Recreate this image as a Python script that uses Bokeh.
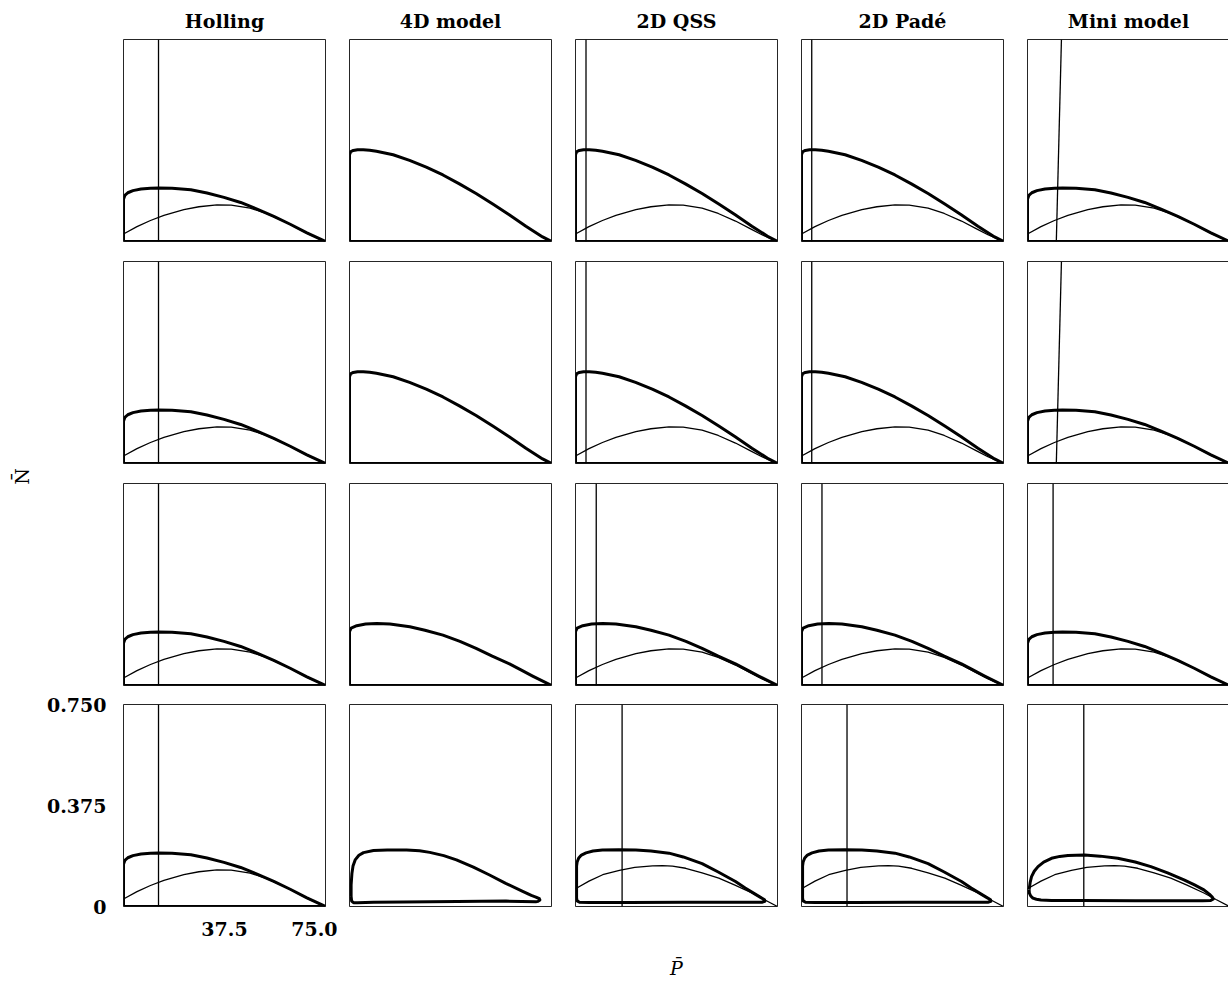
import math
from bokeh.plotting import figure
from bokeh.layouts import gridplot, row
from bokeh.models import Label, FixedTicker, Title
from bokeh.embed import file_html
from bokeh.resources import INLINE

# ---------------- data ----------------
MODELS = ["Holling", "4D model", "2D QSS", "2D Padé", "Mini model"]
P_RANGE = (0.0, 75.0)
N_RANGE = (0.0, 0.75)
X_TICKS = [37.5, 75.0]
X_TICK_LABELS = ["37.5", "75.0"]
Y_TICKS = [0.0, 0.375, 0.75]
Y_TICK_LABELS = ["0", "0.375", "0.750"]
X_LABEL = "P\u0304"
Y_LABEL = "N\u0304"

# limit cycles (thick)
HOLLING_CYCLE_P = [0, 0, 0.5, 1.6, 3.5, 6.5, 10, 13, 18, 25, 31, 37.3, 43.5, 49.6, 55.8, 61.9,
                   68.1, 75, 0]
HOLLING_CYCLE_N = [0, 0.157, 0.171, 0.181, 0.189, 0.195, 0.198, 0.199, 0.198, 0.192, 0.180, 0.164,
                   0.145, 0.120, 0.093, 0.064, 0.032, 0, 0]

BIG_CYCLE_P = [0, 0, 0.5, 1.4, 3, 5.1, 7.5, 10, 16.2, 22.3, 28.5, 34.7, 40.8, 47, 53.2, 59.3,
               65.5, 71.7, 75, 0]
BIG_CYCLE_N = [0, 0.322, 0.334, 0.338, 0.341, 0.341, 0.339, 0.335, 0.322, 0.301, 0.276, 0.247,
               0.214, 0.178, 0.139, 0.099, 0.057, 0.017, 0, 0]

MID_CYCLE_P = [0, 0, 0.6, 2.7, 6, 10.1, 15, 22.4, 28, 34.7, 41, 47, 53, 59.4, 64, 68, 75, 0]
MID_CYCLE_N = [0, 0.200, 0.213, 0.222, 0.228, 0.230, 0.228, 0.218, 0.205, 0.187, 0.164, 0.138,
               0.109, 0.080, 0.056, 0.035, 0, 0]

ROUND4D_CYCLE_P = [0.6, 0.6, 0.9, 1.3, 2.1, 3.5, 5.2, 8.9, 14, 21.2, 26, 29.8, 35, 39.7, 46, 52, 58,
                   64.3, 67.5, 69.2, 70.5, 70.7, 70, 69.2, 58.1, 40, 20, 8.9, 3, 1.5, 0.8, 0.6]
ROUND4D_CYCLE_N = [0.037, 0.080, 0.123, 0.150, 0.173, 0.190, 0.200, 0.208, 0.210, 0.210, 0.207,
                   0.201, 0.189, 0.173, 0.146, 0.117, 0.086, 0.056, 0.041, 0.035, 0.029, 0.024,
                   0.019, 0.018, 0.020, 0.019, 0.017, 0.016, 0.014, 0.014, 0.020, 0.037]

ROUNDQSS_CYCLE_P = [0.4, 0.4, 0.4, 0.6, 1.2, 2.2, 3.9, 6.5, 10, 16, 22.4, 28, 34.7, 40, 47, 53,
                    59.4, 63, 66.7, 68.7, 70.2, 70.3, 69.2, 60, 40, 20, 5, 1.5, 0.6, 0.4]
ROUNDQSS_CYCLE_N = [0.031, 0.100, 0.150, 0.165, 0.180, 0.191, 0.199, 0.206, 0.210, 0.211, 0.210,
                    0.206, 0.198, 0.184, 0.159, 0.128, 0.093, 0.069, 0.046, 0.034, 0.025, 0.019,
                    0.016, 0.016, 0.016, 0.015, 0.015, 0.016, 0.021, 0.031]

MINI4_CYCLE_P = [0.6, 1.0, 1.5, 2.5, 3.9, 6, 8.9, 12, 15, 21.2, 27, 33.5, 40, 45.8, 52, 58.1, 62,
                 65.5, 67.5, 68.6, 69, 68, 65, 40, 20, 8.9, 5, 3.3, 2, 1.2, 0.7, 0.6]
MINI4_CYCLE_N = [0.062, 0.090, 0.111, 0.131, 0.148, 0.165, 0.179, 0.186, 0.189, 0.191, 0.187,
                 0.179, 0.165, 0.148, 0.125, 0.099, 0.080, 0.062, 0.046, 0.035, 0.028, 0.022,
                 0.021, 0.021, 0.022, 0.022, 0.024, 0.027, 0.031, 0.039, 0.050, 0.062]

# prey nullclines (thin)
PREY_P = [0, 5, 10, 15, 22.4, 28, 34.7, 40, 47, 53, 59.4, 65, 69.2, 75]
PREY_N = [0.028, 0.055, 0.078, 0.097, 0.118, 0.129, 0.136, 0.135, 0.124, 0.104, 0.076, 0.047,
          0.025, 0]
PREY4_P = [0, 5, 10.1, 16.3, 22, 28.6, 32.3, 36, 40.9, 47, 53.2, 59, 65.5, 70, 75]
PREY4_N = [0.066, 0.094, 0.118, 0.134, 0.145, 0.151, 0.152, 0.150, 0.142, 0.125, 0.105, 0.080,
           0.050, 0.026, 0]

# predator nullcline: P at N = 0 and at N = 0.75 (None = not drawn)
PRED_P_BOTTOM = [[13.0, None, 3.9, 3.8, 10.7],
                 [13.0, None, 3.9, 3.8, 10.7],
                 [13.0, None, 7.7, 7.6, 9.5],
                 [13.0, None, 17.3, 16.9, 20.9]]
PRED_P_TOP = [[13.0, None, 3.9, 3.8, 12.6],
              [13.0, None, 3.9, 3.8, 12.6],
              [13.0, None, 7.7, 7.6, 9.5],
              [13.0, None, 17.3, 16.9, 20.9]]

CYCLES = {
    "holling": (HOLLING_CYCLE_P, HOLLING_CYCLE_N),
    "big": (BIG_CYCLE_P, BIG_CYCLE_N),
    "mid": (MID_CYCLE_P, MID_CYCLE_N),
    "round4d": (ROUND4D_CYCLE_P, ROUND4D_CYCLE_N),
    "roundqss": (ROUNDQSS_CYCLE_P, ROUNDQSS_CYCLE_N),
    "mini4": (MINI4_CYCLE_P, MINI4_CYCLE_N),
}
PREYS = {"prey": (PREY_P, PREY_N), "prey4": (PREY4_P, PREY4_N)}

CYCLE_KEY = [["holling", "big", "big", "big", "holling"],
             ["holling", "big", "big", "big", "holling"],
             ["holling", "mid", "mid", "mid", "holling"],
             ["holling", "round4d", "roundqss", "roundqss", "mini4"]]
PREY_KEY = [["prey", None, "prey", "prey", "prey"],
            ["prey", None, "prey", "prey", "prey"],
            ["prey", None, "prey", "prey", "prey"],
            ["prey", None, "prey4", "prey4", "prey4"]]

# ---------------- layout ----------------
FW, FH = 202, 202
LEFT_W = 44
COL_BORDERS = [(122 - LEFT_W, 12), (12, 12), (12, 12), (12, 12), (12, 0)]
ROW_BORDERS = [(39, 10), (10, 2), (18, 9), (10, 80)]
TOTAL_H = sum(t + b + FH for t, b in ROW_BORDERS)

FONT = "DejaVu Serif"
TXT_SIZE = "19px"

rows = []
for r in range(4):
    cells = []
    for c in range(5):
        bl, br = COL_BORDERS[c]
        bt, bb = ROW_BORDERS[r]
        is_corner = (r == 3 and c == 0)
        is_xlab = (r == 3 and c == 2)
        p = figure(frame_width=FW, frame_height=FH, x_range=P_RANGE, y_range=N_RANGE,
                   output_backend="svg", toolbar_location=None,
                   min_border_left=bl, min_border_right=br,
                   min_border_top=bt, min_border_bottom=bb,
                   x_axis_location="below" if (is_corner or is_xlab) else None,
                   y_axis_location="left" if is_corner else None,
                   background_fill_color="white", border_fill_color="white")
        p.grid.visible = False
        p.outline_line_color = "black"
        p.outline_line_width = 1
        p.outline_line_alpha = 0.85

        if is_corner or is_xlab:
            for ax in (p.xaxis + p.yaxis):
                ax.axis_line_color = None
                ax.major_tick_line_color = None
                ax.minor_tick_line_color = None
                ax.major_tick_out = 0
                ax.major_label_text_font = FONT
                ax.major_label_text_font_style = "bold"
                ax.major_label_text_font_size = TXT_SIZE
                ax.major_label_text_color = "black"
        if is_corner:
            p.xaxis.ticker = FixedTicker(ticks=X_TICKS)
            p.yaxis.ticker = FixedTicker(ticks=Y_TICKS)
            p.xaxis.major_label_overrides = dict(zip(X_TICKS, X_TICK_LABELS))
            p.yaxis.major_label_overrides = dict(zip(Y_TICKS, Y_TICK_LABELS))
            p.xaxis.major_label_standoff = 15
            p.yaxis.major_label_standoff = 17
        if is_xlab:
            p.xaxis.ticker = FixedTicker(ticks=[])
            p.xaxis.axis_label = X_LABEL
            p.xaxis.axis_label_standoff = 50
            p.xaxis.axis_label_text_font = FONT
            p.xaxis.axis_label_text_font_style = "italic"
            p.xaxis.axis_label_text_font_size = TXT_SIZE
            p.xaxis.axis_label_text_color = "black"

        pk = PREY_KEY[r][c]
        if pk is not None:
            px, py = PREYS[pk]
            p.line(px, py, line_color="black", line_width=1.3)
        pb, pt = PRED_P_BOTTOM[r][c], PRED_P_TOP[r][c]
        if pb is not None:
            p.line([pb, pt], [N_RANGE[0], N_RANGE[1]], line_color="black", line_width=1.3)
        cx, cy = CYCLES[CYCLE_KEY[r][c]]
        p.line(cx, cy, line_color="black", line_width=3, line_join="round")

        if r == 0:
            p.title = Title(text=MODELS[c], align="center", vertical_align="middle", standoff=14,
                            text_font=FONT, text_font_style="bold",
                            text_font_size=TXT_SIZE, text_color="black")
        cells.append(p)
    rows.append(cells)

grid = gridplot(rows, toolbar_location=None)

# narrow strip on the left that carries the rotated N-bar axis title
left = figure(frame_width=LEFT_W, frame_height=TOTAL_H, x_range=(0, LEFT_W), y_range=(0, TOTAL_H),
              output_backend="svg", toolbar_location=None, min_border=0,
              x_axis_location=None, y_axis_location=None,
              background_fill_color="white", border_fill_color="white")
left.grid.visible = False
left.outline_line_color = None
left.add_layout(Label(x=21, y=TOTAL_H - 476, text=Y_LABEL, angle=math.pi / 2,
                      text_align="center", text_baseline="middle",
                      text_font=FONT, text_font_size=TXT_SIZE, text_color="black"))

layout = row(left, grid)
open("out.html", "w").write(file_html(layout, INLINE))
